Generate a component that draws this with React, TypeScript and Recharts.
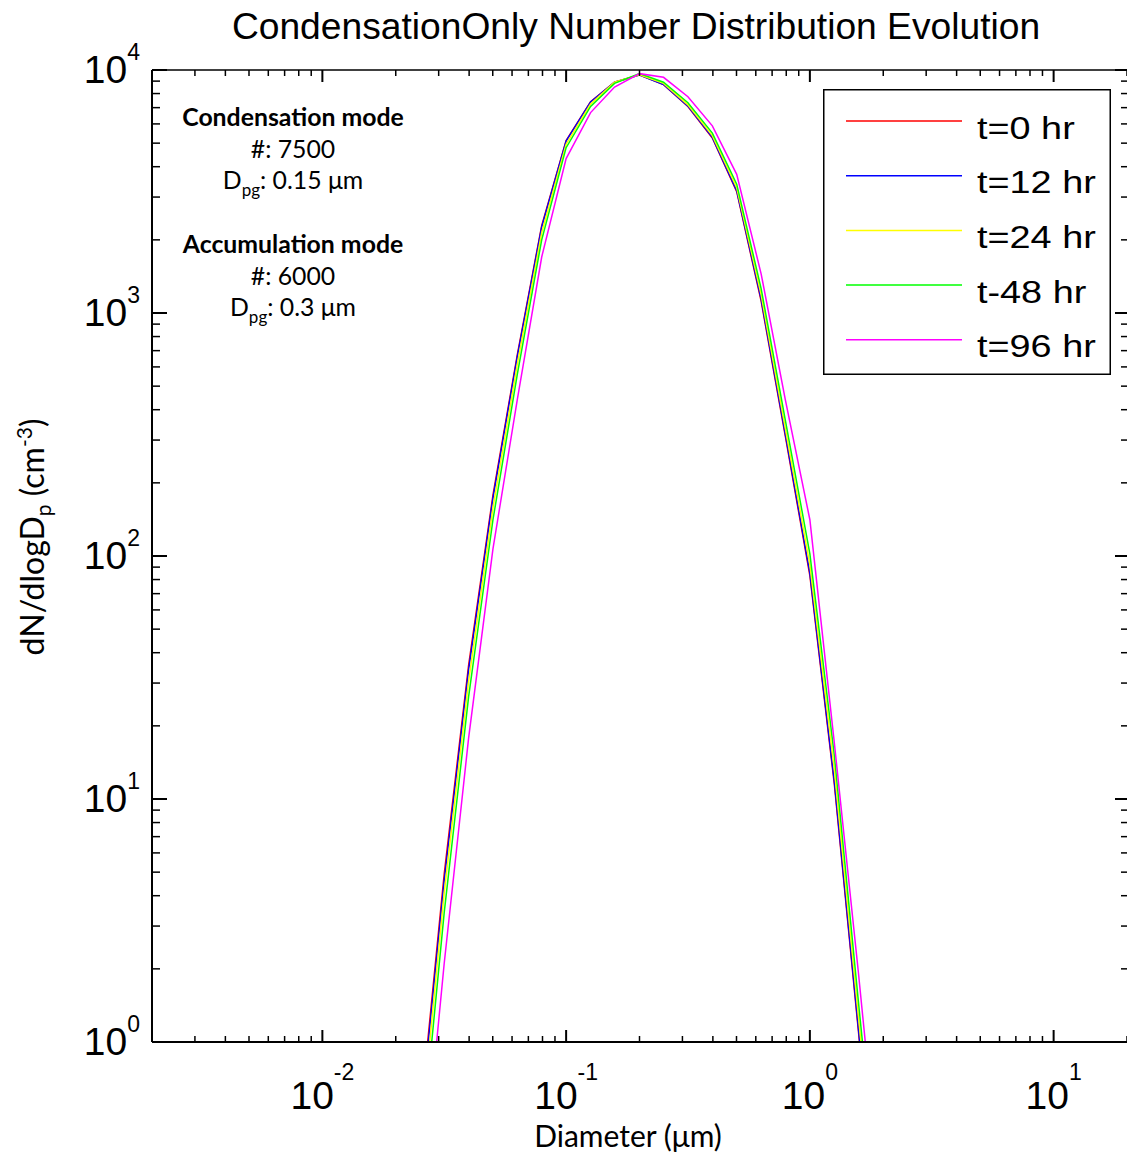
import React from 'react';
import { LineChart, Line, XAxis, YAxis, Legend } from 'recharts';

// bin diameters (µm) and dN/dlogDp (cm^-3)
const diameters = [0.0251, 0.0316, 0.0398, 0.0501, 0.0631, 0.0794, 0.1, 0.126, 0.158, 0.2, 0.251, 0.316, 0.398, 0.501, 0.631, 0.794, 1.0, 1.26, 1.58, 2.0];
const t0 = [0.47, 4.9, 35.5, 178, 676, 2290, 5130, 7410, 8910, 9550, 8710, 7080, 5250, 3160, 1120, 309, 83, 11.5, 1.12, 0.1];
const t12 = [0.44, 4.6, 34, 173, 665, 2260, 5100, 7390, 8900, 9540, 8720, 7100, 5280, 3190, 1140, 315, 85, 11.8, 1.15, 0.1];
const t24 = [0.38, 4.1, 30.5, 158, 617, 2140, 4950, 7240, 8910, 9550, 8810, 7190, 5370, 3280, 1190, 333, 92, 13.2, 1.29, 0.12];
const t48 = [0.31, 3.4, 26.3, 141, 562, 2000, 4790, 7080, 8810, 9660, 8910, 7330, 5500, 3390, 1260, 360, 102, 15.1, 1.48, 0.14];
const t96 = [0.19, 2.1, 17.8, 107, 442, 1700, 4320, 6680, 8510, 9660, 9330, 7760, 5890, 3720, 1450, 437, 141, 17, 1.95, 0.18];

const seriesKeys = ['t0', 't12', 't24', 't48', 't96'];
const seriesNames = ['t=0 hr', 't=12 hr', 't=24 hr', 't-48 hr', 't=96 hr'];
const seriesColors = ['#ff0000', '#0000ff', '#ffff00', '#00ff00', '#ff00ff'];

const xDecades = [-2, -1, 0, 1];
const yDecades = [0, 1, 2, 3, 4];
const minorSteps = [1, 2, 3, 4, 5, 6, 7, 8, 9];

const modes = [
  { name: 'Condensation mode', count: '7500', dpg: '0.15' },
  { name: 'Accumulation mode', count: '6000', dpg: '0.3' },
];

const rows = diameters.map((d, i) => ({ d, t0: t0[i], t12: t12[i], t24: t24[i], t48: t48[i], t96: t96[i] }));

const xTicks: number[] = [];
[-3, -2, -1, 0, 1].forEach((e) =>
  minorSteps.forEach((m) => {
    const v = m * Math.pow(10, e);
    if (v >= 0.00199 && v <= 20.01) xTicks.push(v);
  })
);
const yTicks: number[] = [];
[0, 1, 2, 3].forEach((e) => minorSteps.forEach((m) => yTicks.push(m * Math.pow(10, e))));
yTicks.push(10000);

const ARIAL = '"Liberation Sans", Arial, sans-serif';
const SANS = 'Lato, "Open Sans", sans-serif';

const expOf = (v: number) => Math.round(Math.log10(v));
const isDecade = (v: number) => Math.abs(Math.log10(v) - expOf(v)) < 1e-6;

const BottomTick = (props: any) => {
  const { x, y, payload } = props;
  const v = payload.value;
  const major = isDecade(v);
  const e = expOf(v);
  return (
    <g>
      <line x1={x} x2={x} y1={y} y2={y - (major ? 12 : 6)} stroke="#000" strokeWidth={major ? 2 : 1.5} />
      {major && xDecades.includes(e) && (
        <text x={x} y={y + 67} textAnchor="middle" fontFamily={ARIAL} fontSize={39} fill="#000">
          10<tspan fontSize={23} dy={-29}>{String(e)}</tspan>
        </text>
      )}
    </g>
  );
};

const TopTick = (props: any) => {
  const { x, y, payload } = props;
  const major = isDecade(payload.value);
  return <line x1={x} x2={x} y1={y} y2={y + (major ? 12 : 6)} stroke="#000" strokeWidth={major ? 2 : 1.5} />;
};

const LeftTick = (props: any) => {
  const { x, y, payload } = props;
  const v = payload.value;
  const major = isDecade(v);
  const e = expOf(v);
  return (
    <g>
      <line x1={x} x2={x + (major ? 15 : 8)} y1={y} y2={y} stroke="#000" strokeWidth={major ? 2 : 1.5} />
      {major && yDecades.includes(e) && (
        <text x={x - 12} y={y + 13} textAnchor="end" fontFamily={ARIAL} fontSize={39} fill="#000">
          10<tspan fontSize={23} dy={-23}>{String(e)}</tspan>
        </text>
      )}
    </g>
  );
};

const RightTick = (props: any) => {
  const { x, y, payload } = props;
  const major = isDecade(payload.value);
  return <line x1={x} x2={x - (major ? 12 : 6)} y1={y} y2={y} stroke="#000" strokeWidth={major ? 2 : 1.5} />;
};

const LegendBox = (props: any) => {
  const payload = props.payload || [];
  return (
    <svg width={288} height={286} style={{ display: 'block' }}>
      <rect x={0.75} y={0.75} width={286.5} height={284.5} fill="#fff" stroke="#000" strokeWidth={1.5} />
      {payload.map((item: any, i: number) => {
        const cy = 32 + i * 54.7;
        return (
          <g key={item.value}>
            <line x1={23} x2={139} y1={cy} y2={cy} stroke={item.color} strokeWidth={1.5} />
            <text transform={`translate(154 ${cy + 17.5}) scale(1.22 1)`} fontFamily={ARIAL} fontSize={31} fill="#000">
              {item.value}
            </text>
          </g>
        );
      })}
    </svg>
  );
};

const axisStroke = { stroke: '#000', strokeWidth: 2 };

export default function App() {
  return (
    <div style={{ position: 'absolute', left: 0, top: 0, width: 1127, height: 1155, background: '#fff' }}>
      <LineChart width={1127} height={1155} data={rows} margin={{ top: 69, right: -1, bottom: 112, left: 151 }}>
        <XAxis
          xAxisId="bottom"
          dataKey="d"
          type="number"
          scale="log"
          domain={[0.002, 20]}
          allowDataOverflow
          ticks={xTicks}
          interval={0}
          height={1}
          tickSize={0}
          tickMargin={0}
          tickLine={false}
          axisLine={axisStroke}
          tick={<BottomTick />}
        />
        <XAxis
          xAxisId="top"
          orientation="top"
          dataKey="d"
          type="number"
          scale="log"
          domain={[0.002, 20]}
          allowDataOverflow
          ticks={xTicks}
          interval={0}
          height={1}
          tickSize={0}
          tickMargin={0}
          tickLine={false}
          axisLine={{ stroke: '#000', strokeWidth: 1.5 }}
          tick={<TopTick />}
        />
        <YAxis
          yAxisId="left"
          type="number"
          scale="log"
          domain={[1, 10000]}
          allowDataOverflow
          ticks={yTicks}
          interval={0}
          width={1}
          tickSize={0}
          tickMargin={0}
          tickLine={false}
          axisLine={axisStroke}
          tick={<LeftTick />}
        />
        <YAxis
          yAxisId="right"
          orientation="right"
          type="number"
          scale="log"
          domain={[1, 10000]}
          allowDataOverflow
          ticks={yTicks}
          interval={0}
          width={1}
          tickSize={0}
          tickMargin={0}
          tickLine={false}
          axisLine={false}
          tick={<RightTick />}
        />
        <Legend
          layout="vertical"
          align="center"
          verticalAlign="middle"
          itemSorter={(item: any) => seriesNames.indexOf(item.value)}
          content={<LegendBox />}
          wrapperStyle={{ left: 823, top: 89, width: 288, height: 286 }}
        />
        {seriesKeys.map((k, i) => (
          <Line
            key={k}
            xAxisId="bottom"
            yAxisId="left"
            type="linear"
            dataKey={k}
            name={seriesNames[i]}
            stroke={seriesColors[i]}
            strokeWidth={1.5}
            dot={false}
            isAnimationActive={false}
          />
        ))}
      </LineChart>
      <svg width={1127} height={1155} style={{ position: 'absolute', left: 0, top: 0, pointerEvents: 'none' }}>
        <text x={636} y={39} textAnchor="middle" fontFamily={ARIAL} fontSize={37.2} fill="#000">
          CondensationOnly Number Distribution Evolution
        </text>
        {modes.map((m, i) => {
          const base = 126 + i * 127;
          return (
            <g key={m.name} fontFamily={SANS} fontSize={24.8} fill="#000" textAnchor="middle">
              <text x={293} y={base} fontWeight="bold">{m.name}</text>
              <text x={293} y={base + 32}>#: {m.count}</text>
              <text x={293} y={base + 63}>
                D<tspan fontSize={17} dy={7}>pg</tspan>
                <tspan dy={-7}>: {m.dpg} μm</tspan>
              </text>
            </g>
          );
        })}
        <text x={628} y={1147} textAnchor="middle" fontFamily={SANS} fontSize={30} fill="#000">
          Diameter (μm)
        </text>
        <text
          transform="translate(44 537) rotate(-90)"
          textAnchor="middle"
          fontFamily={SANS}
          fontSize={32}
          fill="#000"
        >
          dN/dlogD<tspan fontSize={21} dy={7}>p</tspan>
          <tspan dy={-7}> (cm</tspan>
          <tspan fontSize={21} dy={-12}>-3</tspan>
          <tspan dy={12}>)</tspan>
        </text>
      </svg>
    </div>
  );
}
